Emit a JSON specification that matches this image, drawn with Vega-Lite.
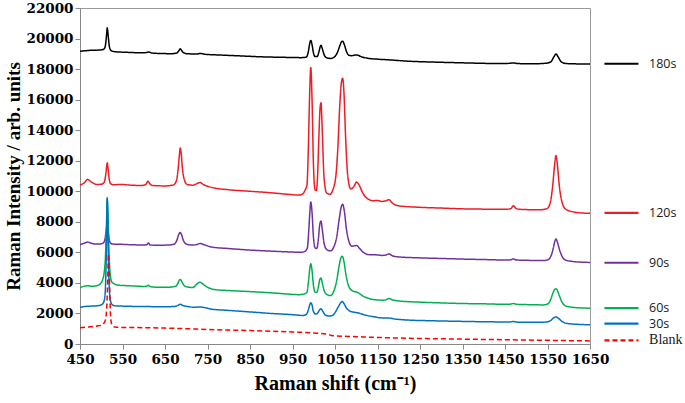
{
  "$schema": "https://vega.github.io/schema/vega-lite/v6.json",
  "width": 510,
  "height": 336,
  "autosize": {"type": "none"},
  "padding": {"left": 80, "top": 8, "right": 95, "bottom": 59},
  "background": "white",
  "config": {
    "view": {"stroke": "#9a9a9a", "strokeWidth": 1},
    "axis": {"labelOverlap": false, "labelFlush": false, "labelBound": false}
  },
  "datasets": {
    "legend": [
      {"s": "180s", "y": 18350},
      {"s": "120s", "y": 8580},
      {"s": "90s", "y": 5320},
      {"s": "60s", "y": 2345},
      {"s": "30s", "y": 1330},
      {"s": "Blank", "y": 240}
    ],
    "spectra": [
      {"s":"180s","x":450,"y":19170},{"s":"180s","x":462,"y":19200},{"s":"180s","x":475,"y":19230},{"s":"180s","x":490,"y":19240},{"s":"180s","x":500,"y":19260},{"s":"180s","x":506,"y":19300},{"s":"180s","x":509,"y":19450},{"s":"180s","x":511,"y":19800},{"s":"180s","x":513,"y":20400},{"s":"180s","x":514,"y":20700},{"s":"180s","x":515,"y":20550},{"s":"180s","x":517,"y":20000},{"s":"180s","x":519,"y":19500},{"s":"180s","x":522,"y":19250},{"s":"180s","x":526,"y":19170},{"s":"180s","x":535,"y":19130},{"s":"180s","x":560,"y":19100},{"s":"180s","x":590,"y":19070},{"s":"180s","x":605,"y":19080},{"s":"180s","x":612,"y":19120},{"s":"180s","x":618,"y":19060},{"s":"180s","x":640,"y":19020},{"s":"180s","x":665,"y":19010},{"s":"180s","x":678,"y":19060},{"s":"180s","x":683,"y":19220},{"s":"180s","x":686,"y":19330},{"s":"180s","x":689,"y":19220},{"s":"180s","x":694,"y":19070},{"s":"180s","x":705,"y":19000},{"s":"180s","x":725,"y":18990},{"s":"180s","x":733,"y":19020},{"s":"180s","x":745,"y":18970},{"s":"180s","x":780,"y":18920},{"s":"180s","x":830,"y":18860},{"s":"180s","x":880,"y":18800},{"s":"180s","x":930,"y":18770},{"s":"180s","x":970,"y":18750},{"s":"180s","x":982,"y":18780},{"s":"180s","x":987,"y":19100},{"s":"180s","x":990,"y":19600},{"s":"180s","x":993,"y":19880},{"s":"180s","x":996,"y":19600},{"s":"180s","x":999,"y":19100},{"s":"180s","x":1003,"y":18820},{"s":"180s","x":1008,"y":18820},{"s":"180s","x":1012,"y":19100},{"s":"180s","x":1015,"y":19450},{"s":"180s","x":1017,"y":19560},{"s":"180s","x":1020,"y":19350},{"s":"180s","x":1025,"y":18900},{"s":"180s","x":1032,"y":18720},{"s":"180s","x":1040,"y":18700},{"s":"180s","x":1048,"y":18780},{"s":"180s","x":1055,"y":19050},{"s":"180s","x":1061,"y":19500},{"s":"180s","x":1065,"y":19780},{"s":"180s","x":1068,"y":19830},{"s":"180s","x":1072,"y":19600},{"s":"180s","x":1077,"y":19150},{"s":"180s","x":1083,"y":18900},{"s":"180s","x":1090,"y":18880},{"s":"180s","x":1097,"y":18920},{"s":"180s","x":1102,"y":18930},{"s":"180s","x":1110,"y":18830},{"s":"180s","x":1125,"y":18720},{"s":"180s","x":1150,"y":18650},{"s":"180s","x":1180,"y":18600},{"s":"180s","x":1220,"y":18520},{"s":"180s","x":1280,"y":18460},{"s":"180s","x":1350,"y":18410},{"s":"180s","x":1420,"y":18370},{"s":"180s","x":1455,"y":18370},{"s":"180s","x":1470,"y":18400},{"s":"180s","x":1480,"y":18360},{"s":"180s","x":1520,"y":18350},{"s":"180s","x":1545,"y":18380},{"s":"180s","x":1558,"y":18480},{"s":"180s","x":1565,"y":18800},{"s":"180s","x":1570,"y":18990},{"s":"180s","x":1575,"y":18800},{"s":"180s","x":1582,"y":18480},{"s":"180s","x":1592,"y":18370},{"s":"180s","x":1620,"y":18340},{"s":"180s","x":1650,"y":18330},

      {"s":"120s","x":450,"y":10400},{"s":"120s","x":460,"y":10550},{"s":"120s","x":468,"y":10780},{"s":"120s","x":476,"y":10620},{"s":"120s","x":490,"y":10450},{"s":"120s","x":500,"y":10460},{"s":"120s","x":506,"y":10550},{"s":"120s","x":509,"y":10800},{"s":"120s","x":511,"y":11200},{"s":"120s","x":513,"y":11700},{"s":"120s","x":514,"y":11860},{"s":"120s","x":515,"y":11750},{"s":"120s","x":517,"y":11200},{"s":"120s","x":519,"y":10750},{"s":"120s","x":522,"y":10500},{"s":"120s","x":528,"y":10420},{"s":"120s","x":545,"y":10450},{"s":"120s","x":570,"y":10400},{"s":"120s","x":595,"y":10380},{"s":"120s","x":605,"y":10450},{"s":"120s","x":610,"y":10660},{"s":"120s","x":614,"y":10500},{"s":"120s","x":620,"y":10380},{"s":"120s","x":650,"y":10350},{"s":"120s","x":670,"y":10420},{"s":"120s","x":677,"y":10700},{"s":"120s","x":681,"y":11500},{"s":"120s","x":684,"y":12400},{"s":"120s","x":686,"y":12830},{"s":"120s","x":688,"y":12500},{"s":"120s","x":691,"y":11500},{"s":"120s","x":695,"y":10800},{"s":"120s","x":702,"y":10450},{"s":"120s","x":715,"y":10400},{"s":"120s","x":725,"y":10500},{"s":"120s","x":732,"y":10580},{"s":"120s","x":740,"y":10450},{"s":"120s","x":760,"y":10250},{"s":"120s","x":800,"y":10100},{"s":"120s","x":850,"y":10000},{"s":"120s","x":900,"y":9900},{"s":"120s","x":940,"y":9800},{"s":"120s","x":965,"y":9750},{"s":"120s","x":975,"y":9850},{"s":"120s","x":980,"y":10100},{"s":"120s","x":984,"y":10400},{"s":"120s","x":987,"y":12500},{"s":"120s","x":990,"y":16000},{"s":"120s","x":993,"y":18100},{"s":"120s","x":996,"y":16000},{"s":"120s","x":999,"y":12000},{"s":"120s","x":1003,"y":10100},{"s":"120s","x":1006,"y":10050},{"s":"120s","x":1009,"y":11000},{"s":"120s","x":1012,"y":13500},{"s":"120s","x":1015,"y":15500},{"s":"120s","x":1017,"y":15800},{"s":"120s","x":1020,"y":14000},{"s":"120s","x":1024,"y":11000},{"s":"120s","x":1030,"y":9900},{"s":"120s","x":1038,"y":9800},{"s":"120s","x":1045,"y":10100},{"s":"120s","x":1052,"y":11000},{"s":"120s","x":1057,"y":13000},{"s":"120s","x":1061,"y":15500},{"s":"120s","x":1065,"y":17100},{"s":"120s","x":1068,"y":17400},{"s":"120s","x":1071,"y":16500},{"s":"120s","x":1075,"y":13500},{"s":"120s","x":1080,"y":11000},{"s":"120s","x":1087,"y":10150},{"s":"120s","x":1094,"y":10300},{"s":"120s","x":1101,"y":10600},{"s":"120s","x":1107,"y":10400},{"s":"120s","x":1115,"y":9900},{"s":"120s","x":1125,"y":9550},{"s":"120s","x":1140,"y":9380},{"s":"120s","x":1150,"y":9400},{"s":"120s","x":1160,"y":9330},{"s":"120s","x":1170,"y":9380},{"s":"120s","x":1177,"y":9450},{"s":"120s","x":1184,"y":9250},{"s":"120s","x":1200,"y":9050},{"s":"120s","x":1250,"y":8950},{"s":"120s","x":1300,"y":8900},{"s":"120s","x":1350,"y":8850},{"s":"120s","x":1400,"y":8830},{"s":"120s","x":1450,"y":8820},{"s":"120s","x":1463,"y":8850},{"s":"120s","x":1470,"y":9050},{"s":"120s","x":1477,"y":8850},{"s":"120s","x":1500,"y":8800},{"s":"120s","x":1530,"y":8790},{"s":"120s","x":1548,"y":8850},{"s":"120s","x":1556,"y":9200},{"s":"120s","x":1562,"y":10300},{"s":"120s","x":1567,"y":11800},{"s":"120s","x":1570,"y":12350},{"s":"120s","x":1573,"y":11800},{"s":"120s","x":1578,"y":10300},{"s":"120s","x":1584,"y":9300},{"s":"120s","x":1592,"y":8850},{"s":"120s","x":1610,"y":8650},{"s":"120s","x":1630,"y":8580},{"s":"120s","x":1650,"y":8560},

      {"s":"90s","x":450,"y":6500},{"s":"90s","x":460,"y":6600},{"s":"90s","x":468,"y":6680},{"s":"90s","x":476,"y":6600},{"s":"90s","x":490,"y":6540},{"s":"90s","x":500,"y":6560},{"s":"90s","x":506,"y":6650},{"s":"90s","x":509,"y":6900},{"s":"90s","x":511,"y":7300},{"s":"90s","x":513,"y":7700},{"s":"90s","x":514,"y":7780},{"s":"90s","x":515,"y":7700},{"s":"90s","x":517,"y":7200},{"s":"90s","x":519,"y":6800},{"s":"90s","x":522,"y":6600},{"s":"90s","x":528,"y":6540},{"s":"90s","x":545,"y":6530},{"s":"90s","x":570,"y":6500},{"s":"90s","x":600,"y":6480},{"s":"90s","x":607,"y":6500},{"s":"90s","x":611,"y":6620},{"s":"90s","x":615,"y":6480},{"s":"90s","x":630,"y":6470},{"s":"90s","x":660,"y":6480},{"s":"90s","x":672,"y":6550},{"s":"90s","x":678,"y":6800},{"s":"90s","x":682,"y":7150},{"s":"90s","x":686,"y":7300},{"s":"90s","x":689,"y":7150},{"s":"90s","x":693,"y":6800},{"s":"90s","x":700,"y":6550},{"s":"90s","x":715,"y":6480},{"s":"90s","x":727,"y":6530},{"s":"90s","x":733,"y":6580},{"s":"90s","x":742,"y":6500},{"s":"90s","x":760,"y":6350},{"s":"90s","x":800,"y":6250},{"s":"90s","x":850,"y":6150},{"s":"90s","x":900,"y":6080},{"s":"90s","x":950,"y":6020},{"s":"90s","x":970,"y":6000},{"s":"90s","x":980,"y":6080},{"s":"90s","x":985,"y":6300},{"s":"90s","x":988,"y":7300},{"s":"90s","x":991,"y":8700},{"s":"90s","x":993,"y":9300},{"s":"90s","x":996,"y":8600},{"s":"90s","x":999,"y":7100},{"s":"90s","x":1003,"y":6300},{"s":"90s","x":1007,"y":6250},{"s":"90s","x":1011,"y":6900},{"s":"90s","x":1014,"y":7800},{"s":"90s","x":1017,"y":8050},{"s":"90s","x":1020,"y":7500},{"s":"90s","x":1025,"y":6500},{"s":"90s","x":1032,"y":6150},{"s":"90s","x":1040,"y":6100},{"s":"90s","x":1047,"y":6350},{"s":"90s","x":1054,"y":7000},{"s":"90s","x":1060,"y":8200},{"s":"90s","x":1065,"y":9000},{"s":"90s","x":1068,"y":9150},{"s":"90s","x":1072,"y":8700},{"s":"90s","x":1077,"y":7500},{"s":"90s","x":1083,"y":6700},{"s":"90s","x":1090,"y":6400},{"s":"90s","x":1096,"y":6430},{"s":"90s","x":1101,"y":6450},{"s":"90s","x":1108,"y":6250},{"s":"90s","x":1118,"y":5980},{"s":"90s","x":1130,"y":5850},{"s":"90s","x":1150,"y":5830},{"s":"90s","x":1160,"y":5800},{"s":"90s","x":1170,"y":5830},{"s":"90s","x":1177,"y":5900},{"s":"90s","x":1185,"y":5780},{"s":"90s","x":1200,"y":5700},{"s":"90s","x":1250,"y":5640},{"s":"90s","x":1300,"y":5600},{"s":"90s","x":1350,"y":5560},{"s":"90s","x":1400,"y":5530},{"s":"90s","x":1450,"y":5500},{"s":"90s","x":1463,"y":5510},{"s":"90s","x":1470,"y":5570},{"s":"90s","x":1477,"y":5500},{"s":"90s","x":1500,"y":5480},{"s":"90s","x":1540,"y":5460},{"s":"90s","x":1552,"y":5530},{"s":"90s","x":1558,"y":5750},{"s":"90s","x":1563,"y":6200},{"s":"90s","x":1567,"y":6700},{"s":"90s","x":1570,"y":6880},{"s":"90s","x":1573,"y":6700},{"s":"90s","x":1578,"y":6200},{"s":"90s","x":1584,"y":5750},{"s":"90s","x":1592,"y":5500},{"s":"90s","x":1610,"y":5400},{"s":"90s","x":1630,"y":5360},{"s":"90s","x":1650,"y":5340},

      {"s":"60s","x":450,"y":3700},{"s":"60s","x":460,"y":3780},{"s":"60s","x":468,"y":3820},{"s":"60s","x":476,"y":3780},{"s":"60s","x":490,"y":3820},{"s":"60s","x":498,"y":3950},{"s":"60s","x":503,"y":4200},{"s":"60s","x":507,"y":4700},{"s":"60s","x":510,"y":5800},{"s":"60s","x":512,"y":7500},{"s":"60s","x":514,"y":9450},{"s":"60s","x":516,"y":8500},{"s":"60s","x":518,"y":6200},{"s":"60s","x":521,"y":4600},{"s":"60s","x":525,"y":4050},{"s":"60s","x":530,"y":3950},{"s":"60s","x":540,"y":3850},{"s":"60s","x":560,"y":3820},{"s":"60s","x":590,"y":3780},{"s":"60s","x":605,"y":3760},{"s":"60s","x":611,"y":3850},{"s":"60s","x":615,"y":3760},{"s":"60s","x":630,"y":3720},{"s":"60s","x":660,"y":3720},{"s":"60s","x":675,"y":3780},{"s":"60s","x":680,"y":3950},{"s":"60s","x":683,"y":4150},{"s":"60s","x":686,"y":4230},{"s":"60s","x":689,"y":4120},{"s":"60s","x":693,"y":3900},{"s":"60s","x":700,"y":3750},{"s":"60s","x":715,"y":3700},{"s":"60s","x":726,"y":3950},{"s":"60s","x":732,"y":4050},{"s":"60s","x":738,"y":3950},{"s":"60s","x":748,"y":3750},{"s":"60s","x":770,"y":3550},{"s":"60s","x":800,"y":3500},{"s":"60s","x":850,"y":3430},{"s":"60s","x":900,"y":3350},{"s":"60s","x":940,"y":3270},{"s":"60s","x":965,"y":3230},{"s":"60s","x":978,"y":3280},{"s":"60s","x":984,"y":3400},{"s":"60s","x":988,"y":4200},{"s":"60s","x":991,"y":5000},{"s":"60s","x":993,"y":5250},{"s":"60s","x":996,"y":4800},{"s":"60s","x":999,"y":3900},{"s":"60s","x":1003,"y":3400},{"s":"60s","x":1007,"y":3380},{"s":"60s","x":1011,"y":3750},{"s":"60s","x":1014,"y":4200},{"s":"60s","x":1017,"y":4320},{"s":"60s","x":1020,"y":4000},{"s":"60s","x":1025,"y":3450},{"s":"60s","x":1032,"y":3220},{"s":"60s","x":1040,"y":3170},{"s":"60s","x":1047,"y":3450},{"s":"60s","x":1054,"y":4150},{"s":"60s","x":1059,"y":5000},{"s":"60s","x":1064,"y":5650},{"s":"60s","x":1067,"y":5750},{"s":"60s","x":1071,"y":5400},{"s":"60s","x":1076,"y":4500},{"s":"60s","x":1082,"y":3800},{"s":"60s","x":1090,"y":3500},{"s":"60s","x":1098,"y":3420},{"s":"60s","x":1105,"y":3350},{"s":"60s","x":1115,"y":3150},{"s":"60s","x":1130,"y":2980},{"s":"60s","x":1150,"y":2880},{"s":"60s","x":1165,"y":2870},{"s":"60s","x":1172,"y":2920},{"s":"60s","x":1177,"y":2980},{"s":"60s","x":1184,"y":2900},{"s":"60s","x":1200,"y":2820},{"s":"60s","x":1250,"y":2740},{"s":"60s","x":1300,"y":2690},{"s":"60s","x":1350,"y":2650},{"s":"60s","x":1400,"y":2630},{"s":"60s","x":1450,"y":2600},{"s":"60s","x":1463,"y":2610},{"s":"60s","x":1470,"y":2650},{"s":"60s","x":1477,"y":2600},{"s":"60s","x":1500,"y":2580},{"s":"60s","x":1540,"y":2560},{"s":"60s","x":1552,"y":2650},{"s":"60s","x":1558,"y":2950},{"s":"60s","x":1563,"y":3350},{"s":"60s","x":1567,"y":3580},{"s":"60s","x":1570,"y":3620},{"s":"60s","x":1573,"y":3520},{"s":"60s","x":1578,"y":3150},{"s":"60s","x":1584,"y":2750},{"s":"60s","x":1592,"y":2500},{"s":"60s","x":1610,"y":2400},{"s":"60s","x":1630,"y":2360},{"s":"60s","x":1650,"y":2345},

      {"s":"30s","x":450,"y":2400},{"s":"30s","x":460,"y":2450},{"s":"30s","x":475,"y":2480},{"s":"30s","x":490,"y":2500},{"s":"30s","x":500,"y":2560},{"s":"30s","x":505,"y":2700},{"s":"30s","x":508,"y":3000},{"s":"30s","x":510,"y":3800},{"s":"30s","x":512,"y":6000},{"s":"30s","x":514,"y":9580},{"s":"30s","x":516,"y":7000},{"s":"30s","x":518,"y":4300},{"s":"30s","x":521,"y":2950},{"s":"30s","x":525,"y":2600},{"s":"30s","x":532,"y":2500},{"s":"30s","x":550,"y":2480},{"s":"30s","x":580,"y":2460},{"s":"30s","x":610,"y":2450},{"s":"30s","x":640,"y":2440},{"s":"30s","x":670,"y":2450},{"s":"30s","x":680,"y":2520},{"s":"30s","x":686,"y":2600},{"s":"30s","x":692,"y":2520},{"s":"30s","x":705,"y":2450},{"s":"30s","x":720,"y":2400},{"s":"30s","x":732,"y":2430},{"s":"30s","x":740,"y":2400},{"s":"30s","x":760,"y":2280},{"s":"30s","x":800,"y":2200},{"s":"30s","x":850,"y":2100},{"s":"30s","x":900,"y":2000},{"s":"30s","x":950,"y":1920},{"s":"30s","x":975,"y":1870},{"s":"30s","x":983,"y":1950},{"s":"30s","x":988,"y":2300},{"s":"30s","x":991,"y":2600},{"s":"30s","x":993,"y":2700},{"s":"30s","x":996,"y":2550},{"s":"30s","x":999,"y":2150},{"s":"30s","x":1004,"y":1960},{"s":"30s","x":1008,"y":1990},{"s":"30s","x":1013,"y":2200},{"s":"30s","x":1017,"y":2310},{"s":"30s","x":1021,"y":2150},{"s":"30s","x":1027,"y":1900},{"s":"30s","x":1035,"y":1830},{"s":"30s","x":1042,"y":1850},{"s":"30s","x":1050,"y":2050},{"s":"30s","x":1058,"y":2450},{"s":"30s","x":1064,"y":2720},{"s":"30s","x":1067,"y":2780},{"s":"30s","x":1071,"y":2650},{"s":"30s","x":1077,"y":2350},{"s":"30s","x":1085,"y":2150},{"s":"30s","x":1095,"y":2080},{"s":"30s","x":1105,"y":2030},{"s":"30s","x":1120,"y":1900},{"s":"30s","x":1140,"y":1790},{"s":"30s","x":1160,"y":1710},{"s":"30s","x":1177,"y":1700},{"s":"30s","x":1190,"y":1640},{"s":"30s","x":1220,"y":1570},{"s":"30s","x":1280,"y":1520},{"s":"30s","x":1350,"y":1480},{"s":"30s","x":1420,"y":1450},{"s":"30s","x":1460,"y":1440},{"s":"30s","x":1470,"y":1470},{"s":"30s","x":1480,"y":1430},{"s":"30s","x":1520,"y":1420},{"s":"30s","x":1548,"y":1440},{"s":"30s","x":1558,"y":1550},{"s":"30s","x":1565,"y":1720},{"s":"30s","x":1570,"y":1770},{"s":"30s","x":1575,"y":1700},{"s":"30s","x":1583,"y":1500},{"s":"30s","x":1595,"y":1350},{"s":"30s","x":1620,"y":1290},{"s":"30s","x":1650,"y":1260},

      {"s":"Blank","x":450,"y":1070},{"s":"Blank","x":470,"y":1120},{"s":"Blank","x":490,"y":1180},{"s":"Blank","x":500,"y":1230},{"s":"Blank","x":506,"y":1350},{"s":"Blank","x":510,"y":1600},{"s":"Blank","x":513,"y":2400},{"s":"Blank","x":515,"y":4000},{"s":"Blank","x":517,"y":5900},{"s":"Blank","x":519,"y":4500},{"s":"Blank","x":521,"y":2500},{"s":"Blank","x":523,"y":1500},{"s":"Blank","x":526,"y":1200},{"s":"Blank","x":532,"y":1110},{"s":"Blank","x":550,"y":1080},{"s":"Blank","x":600,"y":1070},{"s":"Blank","x":650,"y":1040},{"s":"Blank","x":700,"y":1000},{"s":"Blank","x":750,"y":950},{"s":"Blank","x":800,"y":910},{"s":"Blank","x":850,"y":880},{"s":"Blank","x":900,"y":840},{"s":"Blank","x":950,"y":790},{"s":"Blank","x":1000,"y":720},{"s":"Blank","x":1030,"y":650},{"s":"Blank","x":1045,"y":540},{"s":"Blank","x":1100,"y":480},{"s":"Blank","x":1150,"y":430},{"s":"Blank","x":1200,"y":390},{"s":"Blank","x":1250,"y":360},{"s":"Blank","x":1300,"y":340},{"s":"Blank","x":1350,"y":320},{"s":"Blank","x":1400,"y":300},{"s":"Blank","x":1450,"y":280},{"s":"Blank","x":1500,"y":260},{"s":"Blank","x":1550,"y":240},{"s":"Blank","x":1600,"y":220},{"s":"Blank","x":1650,"y":200}
    ]
  },
  "encoding": {
    "y": {
      "field": "y", "type": "quantitative",
      "scale": {"domain": [0, 22000], "nice": false},
      "axis": {
        "title": "Raman Intensity / arb. units",
        "values": [0, 2000, 4000, 6000, 8000, 10000, 12000, 14000, 16000, 18000, 20000, 22000],
        "format": "d", "grid": false, "labelOverlap": false, "labelFlush": false, "labelBound": false,
        "labelFont": "DejaVu Serif", "labelFontWeight": "bold", "labelFontSize": 13.5, "labelColor": "#000",
        "labelPadding": 2, "tickSize": 5, "tickColor": "#888", "domainColor": "#888",
        "titleFont": "Liberation Serif", "titleFontSize": 19, "titleFontWeight": "bold", "titleColor": "#000",
        "titlePadding": 3
      }
    }
  },
  "layer": [
    {
      "data": {"name": "spectra"},
      "mark": {"type": "line", "strokeWidth": 1.5, "interpolate": "monotone"},
      "encoding": {
        "x": {
          "field": "x", "type": "quantitative",
          "scale": {"domain": [450, 1650], "nice": false, "zero": false},
          "axis": {
            "title": "Raman shift (cm⁻¹)",
            "values": [450, 550, 650, 750, 850, 950, 1050, 1150, 1250, 1350, 1450, 1550, 1650],
            "format": "d", "grid": false, "labelOverlap": false, "labelFlush": false, "labelBound": false,
            "labelFont": "DejaVu Serif", "labelFontWeight": "bold", "labelFontSize": 13.5, "labelColor": "#000",
            "labelPadding": 3, "tickSize": 5, "tickColor": "#888", "domainColor": "#888",
            "titleFont": "Liberation Serif", "titleFontSize": 20, "titleFontWeight": "bold", "titleColor": "#000",
            "titlePadding": 8
          }
        },
        "color": {
          "field": "s", "type": "nominal", "legend": null,
          "scale": {"domain": ["180s", "120s", "90s", "60s", "30s", "Blank"],
                    "range": ["#000000", "#EE1C24", "#7030A0", "#00B050", "#0070C0", "#FF0000"]}
        },
        "strokeDash": {
          "field": "s", "type": "nominal", "legend": null,
          "scale": {"domain": ["180s", "120s", "90s", "60s", "30s", "Blank"],
                    "range": [[1, 0], [1, 0], [1, 0], [1, 0], [1, 0], [5, 3]]}
        },
        "order": {"field": "x", "type": "quantitative"}
      }
    },
    {
      "data": {"name": "legend"},
      "mark": {"type": "rule", "strokeWidth": 2.2},
      "encoding": {
        "x": {"datum": 1684, "type": "quantitative"},
        "x2": {"datum": 1764},
        "color": {"field": "s", "type": "nominal", "legend": null},
        "strokeDash": {"field": "s", "type": "nominal", "legend": null}
      }
    },
    {
      "data": {"name": "legend"},
      "transform": [{"filter": "datum.s !== 'Blank'"}],
      "mark": {"type": "text", "align": "left", "baseline": "middle", "font": "Open Sans", "fontSize": 12.5, "color": "#1a1a1a"},
      "encoding": {
        "x": {"datum": 1789, "type": "quantitative"},
        "text": {"field": "s"}
      }
    },
    {
      "data": {"name": "legend"},
      "transform": [{"filter": "datum.s === 'Blank'"}],
      "mark": {"type": "text", "align": "left", "baseline": "middle", "font": "Liberation Serif", "fontSize": 14, "color": "#1a1a1a"},
      "encoding": {
        "x": {"datum": 1789, "type": "quantitative"},
        "text": {"field": "s"}
      }
    }
  ]
}
